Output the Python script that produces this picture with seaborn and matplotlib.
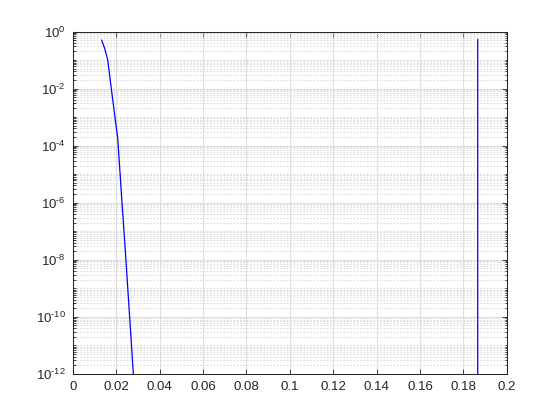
import numpy as np
import pandas as pd
import matplotlib
matplotlib.use("Agg")
import matplotlib.pyplot as plt
import matplotlib.ticker as mticker
import seaborn as sns

# data
x_vals = [0.01332, 0.0148, 0.0161, 0.0175, 0.0190, 0.0207, 0.0225, 0.0243,
          0.0261, 0.0279, 0.0297, 0.1866, 0.1866]
y_vals = [0.5, 0.24, 0.1, 0.0141, 1.78e-3, 1.82e-4, 1.58e-6, 1.58e-8,
          1.26e-10, 1e-12, 1e-14, 1e-14, 0.53]
x_ticks = [0, 0.02, 0.04, 0.06, 0.08, 0.1, 0.12, 0.14, 0.16, 0.18, 0.2]
x_tick_labels = ["0", "0.02", "0.04", "0.06", "0.08", "0.1", "0.12", "0.14",
                 "0.16", "0.18", "0.2"]
y_ticks = [1e-12, 1e-10, 1e-8, 1e-6, 1e-4, 1e-2, 1e0]
y_exponents = ["-12", "-10", "-8", "-6", "-4", "-2", "0"]

sns.set_theme(style="white")
plt.rcParams["font.family"] = ["Liberation Sans", "DejaVu Sans"]
plt.rcParams["mathtext.fontset"] = "custom"
plt.rcParams["mathtext.rm"] = "Liberation Sans"
plt.rcParams["mathtext.it"] = "Liberation Sans"
plt.rcParams["mathtext.default"] = "regular"

df = pd.DataFrame({"x": x_vals, "y": y_vals})

fig = plt.figure(figsize=(5.6, 4.2), dpi=100)
ax = fig.add_axes([0.13, 0.11, 0.775, 0.815])
ax.set_yscale("log")

ax.set_xlim(0, 0.2)
ax.set_ylim(1e-12, 1e0)

# grid
ax.set_axisbelow(True)
ax.xaxis.grid(True, which="major", color="#dfdfdf", linewidth=0.8, linestyle="-")
ax.yaxis.grid(True, which="major", color="#dfdfdf", linewidth=0.8, linestyle="-")
ax.yaxis.grid(True, which="minor", color="#dcdcdc", linewidth=0.8, linestyle=(0, (1.5, 1.5)))

sns.lineplot(data=df, x="x", y="y", ax=ax, sort=False, estimator=None,
             color=(0, 0, 1), linewidth=0.9)

ax.set_xticks(x_ticks)
ax.set_xticklabels(x_tick_labels)
ax.yaxis.set_major_locator(mticker.FixedLocator(y_ticks))
ax.yaxis.set_major_formatter(mticker.FixedFormatter(
    [r"$10^{%s}$" % e.replace("-", "\u2010") for e in y_exponents]))
ax.yaxis.set_minor_locator(mticker.LogLocator(base=10, subs=np.arange(1, 10), numticks=100))
ax.yaxis.set_minor_formatter(mticker.NullFormatter())
ax.set_xlim(0, 0.2)
ax.set_ylim(1e-12, 1e0)

ax.set_xlabel("")
ax.set_ylabel("")

col = "#262626"
for s in ax.spines.values():
    s.set_visible(True)
    s.set_color(col)
    s.set_linewidth(0.75)

ax.tick_params(axis="both", which="major", direction="in", length=3.3, width=0.6,
               color=col, labelcolor=col, labelsize=9.5, top=True, right=True,
               bottom=True, left=True, pad=5)
ax.tick_params(axis="y", which="minor", direction="in", length=1.8, width=0.6,
               color=col, left=True, right=True)
ax.tick_params(axis="x", which="minor", bottom=False, top=False)

fig.savefig("out.png", dpi=100, facecolor="white")
